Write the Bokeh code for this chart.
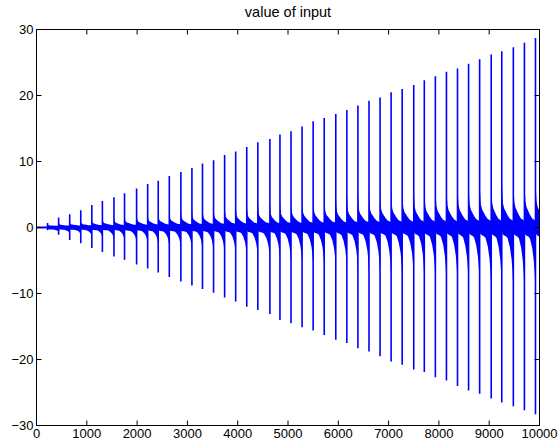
from bokeh.plotting import figure
from bokeh.models import LinearAxis, FixedTicker, Range1d
from bokeh.embed import file_html
from bokeh.resources import INLINE

# spike positions (sample index)
spike_x = [220, 440, 660, 880, 1100, 1310, 1540, 1750, 1990, 2210, 2420, 2640,
           2870, 3090, 3300, 3520, 3740, 3960, 4180, 4400, 4640, 4840, 5060,
           5280, 5500, 5720, 5950, 6170, 6390, 6610, 6830, 7050, 7270, 7500,
           7710, 7930, 8150, 8370, 8590, 8810, 9040, 9250, 9480, 9700, 9920]
# positive peak of each spike
peak_values = [0.7, 1.5, 2.0, 2.6, 3.4, 4.0, 4.6, 5.2, 5.9, 6.6, 7.1, 7.8, 8.4,
               9.0, 9.7, 10.2, 11.0, 11.5, 12.2, 12.9, 13.4, 14.1, 14.6, 15.3,
               16.1, 16.6, 17.2, 17.8, 18.5, 19.2, 19.7, 20.5, 21.0, 21.6, 22.3,
               22.9, 23.6, 24.1, 24.8, 25.5, 26.2, 26.7, 27.3, 28.0, 28.7]
# negative trough of each spike
trough_values = [-0.4, -1.1, -1.9, -2.4, -3.1, -3.7, -4.4, -4.9, -5.6, -6.2,
                 -6.8, -7.5, -8.2, -8.8, -9.3, -9.9, -10.6, -11.2, -12.0, -12.5,
                 -13.1, -14.0, -14.5, -15.1, -15.6, -16.3, -17.0, -17.5, -18.3,
                 -18.8, -19.5, -20.3, -20.8, -21.5, -21.9, -22.7, -23.2, -24.0,
                 -24.7, -25.2, -25.9, -26.5, -27.1, -27.7, -28.3]

# envelope of the dense ringing between two spikes (fraction of period -> fraction of spike)
env_u = [0.0, 0.02, 0.05, 0.1, 0.2, 0.35, 0.5, 0.7, 0.85, 0.93, 0.97, 1.0]
env_up = [0.30, 0.25, 0.18, 0.13, 0.10, 0.08, 0.06, 0.04, 0.035, 0.03, 0.03, 0.03]
env_lo = [0.02, 0.02, 0.025, 0.03, 0.035, 0.04, 0.05, 0.10, 0.17, 0.24, 0.30, 0.35]
band_base = 0.25

x_ticks = [0, 1000, 2000, 3000, 4000, 5000, 6000, 7000, 8000, 9000, 10000]
y_ticks = [-30, -20, -10, 0, 10, 20, 30]
x_min, x_max = 0, 10000
y_min, y_max = -30, 30

BLUE = "#0000ff"
FONT = "Liberation Sans"

# band between spikes
bx, bup, blo = [0, spike_x[0]], [band_base * 0.6] * 2, [-band_base * 0.6] * 2
n = len(spike_x)
for i in range(n):
    x0 = spike_x[i]
    x1 = spike_x[i + 1] if i + 1 < n else x0 + (spike_x[-1] - spike_x[-2])
    nxt = trough_values[i + 1] if i + 1 < n else trough_values[i]
    for u, fu, fl in zip(env_u, env_up, env_lo):
        bx.append(x0 + u * (x1 - x0))
        bup.append(band_base + peak_values[i] * fu)
        blo.append(-band_base + nxt * fl)

p = figure(width=559, height=448, x_range=Range1d(x_min, x_max), y_range=Range1d(y_min, y_max),
           output_backend="svg", toolbar_location=None, title="value of input")
p.min_border_left = 36
p.min_border_right = 20
p.min_border_top = 0
p.min_border_bottom = 23
p.background_fill_color = "white"
p.border_fill_color = "white"
p.outline_line_color = "black"
p.outline_line_width = 1
p.xgrid.visible = False
p.ygrid.visible = False

p.title.text = "value of input"
p.title.align = "center"
p.title.text_font = FONT
p.title.text_font_size = "14.5px"
p.title.text_font_style = "normal"
p.title.text_color = "black"
p.title.standoff = 2

p.varea(x=bx, y1=blo, y2=bup, fill_color=BLUE, fill_alpha=1.0)
p.segment(x0=spike_x, y0=trough_values, x1=spike_x, y1=peak_values,
          line_color=BLUE, line_width=1.6)

# inward tick marks on all four sides of the box (about 5 px long)
frame_w, frame_h = 503, 397
tdx = 5 * (x_max - x_min) / frame_w
tdy = 5 * (y_max - y_min) / frame_h
nx, ny = len(x_ticks), len(y_ticks)
tick_style = dict(line_color="black", line_width=1, level="overlay")
p.segment(x0=x_ticks, y0=[y_min] * nx, x1=x_ticks, y1=[y_min + tdy] * nx, **tick_style)
p.segment(x0=x_ticks, y0=[y_max] * nx, x1=x_ticks, y1=[y_max - tdy] * nx, **tick_style)
p.segment(x0=[x_min] * ny, y0=y_ticks, x1=[x_min + tdx] * ny, y1=y_ticks, **tick_style)
p.segment(x0=[x_max] * ny, y0=y_ticks, x1=[x_max - tdx] * ny, y1=y_ticks, **tick_style)

def style(ax, ticks, show_labels=True):
    ax.ticker = FixedTicker(ticks=ticks)
    ax.major_tick_in = 0
    ax.major_tick_out = 0
    ax.minor_tick_line_color = None
    ax.axis_line_color = "black"
    ax.major_label_text_font = FONT
    ax.major_label_text_font_size = "13px"
    ax.major_label_text_color = "black" if show_labels else None
    ax.major_label_standoff = 3

style(p.xaxis[0], x_ticks)
style(p.yaxis[0], y_ticks)
top = LinearAxis()
style(top, x_ticks, False)
top.major_label_text_font_size = "1px"
top.major_label_standoff = 0
top.axis_label = " "
top.axis_label_text_font_size = "5px"
top.axis_label_standoff = 0
top.axis_label_text_color = None
right = LinearAxis()
style(right, y_ticks, False)
right.major_label_text_font_size = "1px"
right.major_label_standoff = 0
p.add_layout(top, "above")
p.add_layout(right, "right")

open("out.html", "w").write(file_html(p, INLINE))
